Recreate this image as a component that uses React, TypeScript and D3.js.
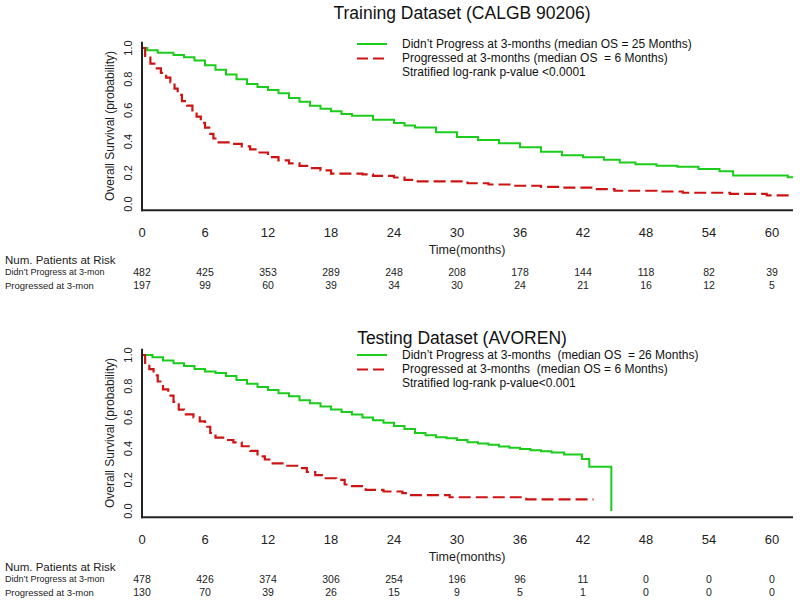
import React from "react";
import * as d3 from "d3";

const xTicks = [0, 6, 12, 18, 24, 30, 36, 42, 48, 54, 60];
const yTicks = [0, 0.2, 0.4, 0.6, 0.8, 1.0];

// Training (CALGB 90206)
const trainNoProgT = [0, 0.5, 1.5, 3, 4, 5, 6, 7, 8, 9, 10, 11, 12, 13, 14, 15, 16, 17, 18, 19, 20, 22, 24, 25, 26, 28, 30, 32, 34, 36, 38, 40, 42, 44, 45.5, 47, 49, 51, 53, 55, 56.3, 61.5, 62];
const trainNoProgS = [1, 0.985, 0.97, 0.955, 0.94, 0.92, 0.89, 0.86, 0.83, 0.8, 0.77, 0.75, 0.73, 0.71, 0.68, 0.655, 0.63, 0.61, 0.595, 0.577, 0.565, 0.54, 0.52, 0.503, 0.49, 0.46, 0.43, 0.41, 0.39, 0.363, 0.335, 0.313, 0.3, 0.283, 0.266, 0.255, 0.245, 0.238, 0.225, 0.21, 0.183, 0.172, 0.172];
const trainProgT = [0, 0.3, 0.8, 1.3, 1.8, 2.3, 2.7, 3.1, 3.4, 3.8, 4.3, 4.8, 5.2, 5.6, 6, 6.4, 6.8, 7.3, 8.5, 9.5, 10.3, 11, 12, 13, 14, 15, 16, 17, 18, 21, 22, 24, 25, 26, 31, 33, 35, 38, 40, 43, 45, 49, 51.5, 56, 59.5, 62];
const trainProgS = [1, 0.95, 0.9, 0.87, 0.84, 0.81, 0.78, 0.74, 0.7, 0.66, 0.63, 0.6, 0.56, 0.52, 0.49, 0.45, 0.42, 0.395, 0.385, 0.37, 0.35, 0.33, 0.3, 0.28, 0.26, 0.245, 0.23, 0.215, 0.195, 0.19, 0.18, 0.17, 0.155, 0.145, 0.133, 0.125, 0.117, 0.11, 0.105, 0.095, 0.085, 0.08, 0.072, 0.065, 0.055, 0.055];

// Testing (AVOREN)
const testNoProgT = [0, 1, 2, 3, 4, 5, 6, 7, 8, 9, 10, 11, 12, 13, 14, 15, 16, 17, 18, 19, 20, 21, 22, 23, 24, 25, 26, 27, 28, 29, 30, 31, 32, 33, 34, 35, 36, 37, 38, 39, 40.2, 41.9, 42.6, 44.7];
const testNoProgS = [1, 0.985, 0.965, 0.947, 0.93, 0.91, 0.895, 0.885, 0.865, 0.84, 0.815, 0.795, 0.775, 0.755, 0.735, 0.71, 0.69, 0.67, 0.65, 0.635, 0.618, 0.6, 0.582, 0.565, 0.545, 0.525, 0.5, 0.485, 0.472, 0.466, 0.455, 0.44, 0.432, 0.424, 0.413, 0.405, 0.397, 0.39, 0.383, 0.375, 0.362, 0.334, 0.283, 0];
const testProgT = [0, 0.3, 0.7, 1.1, 1.5, 2, 2.5, 3, 3.5, 4, 4.9, 5.5, 6, 6.5, 7, 8, 8.7, 9.5, 10.3, 11, 11.7, 12.3, 13.5, 15, 15.7, 16.5, 17.5, 18.5, 19.3, 20, 21.3, 23, 24.8, 25.5, 29.3, 36.6, 43];
const testProgS = [1, 0.95, 0.91, 0.87, 0.83, 0.78, 0.74, 0.7, 0.65, 0.62, 0.6, 0.575, 0.54, 0.5, 0.47, 0.455, 0.44, 0.415, 0.385, 0.35, 0.33, 0.305, 0.29, 0.275, 0.25, 0.23, 0.21, 0.2, 0.17, 0.16, 0.135, 0.125, 0.115, 0.102, 0.088, 0.074, 0.074];

const trainRiskNoProg = [482, 425, 353, 289, 248, 208, 178, 144, 118, 82, 39];
const trainRiskProg = [197, 99, 60, 39, 34, 30, 24, 21, 16, 12, 5];
const testRiskNoProg = [478, 426, 374, 306, 254, 196, 96, 11, 0, 0, 0];
const testRiskProg = [130, 70, 39, 26, 15, 9, 5, 1, 0, 0, 0];

const trainLegend = [
  "Didn\u2019t Progress at 3-months (median OS = 25 Months)",
  "Progressed at 3-months (median OS  = 6 Months)",
  "Stratified log-rank p-value <0.0001",
];
const testLegend = [
  "Didn\u2019t Progress at 3-months  (median OS  = 26 Months)",
  "Progressed at 3-months  (median OS = 6 Months)",
  "Stratified log-rank p-value<0.001",
];

const GREEN = "#1ccc1c";
const RED = "#cc1414";
const FONT = "Arial, 'Liberation Sans', Helvetica, sans-serif";

type PanelProps = {
  top: number;
  title: string;
  legend: string[];
  gT: number[]; gS: number[];
  rT: number[]; rS: number[];
  riskG: number[]; riskR: number[];
  titleY: number;
  legY: number;
};

function Panel({ top, title, legend, gT, gS, rT, rS, riskG, riskR, titleY, legY }: PanelProps) {
  const x = d3.scaleLinear().domain([0, 62]).range([142, 793]);
  const y = d3.scaleLinear().domain([0, 1]).range([top + 156, top]);
  const line = d3
    .line<[number, number]>()
    .x((d) => x(d[0]))
    .y((d) => y(d[1]))
    .curve(d3.curveStepAfter);
  const gData = gT.map((t, i) => [t, gS[i]] as [number, number]);
  const rData = rT.map((t, i) => [t, rS[i]] as [number, number]);
  const axisY = y(-0.04);
  const axisTop = y(1.04);
  return (
    <g fontFamily={FONT}>
      <text x={462} y={titleY} fontSize={17.5} textAnchor="middle" dy="0.35em" fill="#111">
        {title}
      </text>
      <line x1={357} x2={387} y1={legY} y2={legY} stroke={GREEN} strokeWidth={2} />
      <line x1={357} x2={387} y1={legY + 14.5} y2={legY + 14.5} stroke={RED} strokeWidth={2} strokeDasharray="11,5" />
      {legend.map((s, i) => (
        <text key={i} x={402} y={legY + i * 14} fontSize={12} dy="0.35em" fill="#111" style={{ whiteSpace: "pre" }}>
          {s}
        </text>
      ))}
      <path d={line(gData) || ""} fill="none" stroke={GREEN} strokeWidth={2} />
      <path d={line(rData) || ""} fill="none" stroke={RED} strokeWidth={2.2} strokeDasharray="12,5" />
      <line x1={x(0)} x2={x(0)} y1={axisTop} y2={axisY + 1} stroke="#222" strokeWidth={2} />
      <line x1={x(0) - 1} x2={x(62)} y1={axisY} y2={axisY} stroke="#222" strokeWidth={2} />
      {yTicks.map((v) => (
        <text
          key={v}
          transform={`translate(128,${y(v)}) rotate(-90)`}
          fontSize={11}
          textAnchor="middle"
          dy="0.35em"
          fill="#222"
        >
          {v.toFixed(1)}
        </text>
      ))}
      <text
        transform={`translate(110,${y(0.5)}) rotate(-90)`}
        fontSize={12}
        textAnchor="middle"
        dy="0.35em"
        fill="#222"
      >
        Overall Survival (probability)
      </text>
      {xTicks.map((v) => (
        <text key={v} x={x(v)} y={axisY + 22} fontSize={13} textAnchor="middle" dy="0.35em" fill="#222">
          {v}
        </text>
      ))}
      <text x={467} y={axisY + 39} fontSize={12.5} textAnchor="middle" dy="0.35em" fill="#222">
        Time(months)
      </text>
      <text x={5} y={axisY + 50} fontSize={11.5} dy="0.35em" fill="#222">
        Num. Patients at Risk
      </text>
      <text x={5} y={axisY + 62} fontSize={9} dy="0.35em" fill="#222">
        Didn’t Progress at 3-mon
      </text>
      <text x={5} y={axisY + 75} fontSize={9.5} dy="0.35em" fill="#222">
        Progressed at 3-mon
      </text>
      {xTicks.map((v, i) => (
        <g key={v}>
          <text x={x(v)} y={axisY + 62} fontSize={10.5} textAnchor="middle" dy="0.35em" fill="#222">
            {riskG[i]}
          </text>
          <text x={x(v)} y={axisY + 75} fontSize={10.5} textAnchor="middle" dy="0.35em" fill="#222">
            {riskR[i]}
          </text>
        </g>
      ))}
    </g>
  );
}

export default function App() {
  return (
    <div style={{ position: "absolute", left: 0, top: 0 }}>
      <svg width={800} height={604} style={{ display: "block", background: "#fff" }}>
        <Panel
          top={48}
          title="Training Dataset (CALGB 90206)"
          legend={trainLegend}
          gT={trainNoProgT}
          gS={trainNoProgS}
          rT={trainProgT}
          rS={trainProgS}
          riskG={trainRiskNoProg}
          riskR={trainRiskProg}
          titleY={13}
          legY={44}
        />
        <Panel
          top={355}
          title="Testing Dataset (AVOREN)"
          legend={testLegend}
          gT={testNoProgT}
          gS={testNoProgS}
          rT={testProgT}
          rS={testProgS}
          riskG={testRiskNoProg}
          riskR={testRiskProg}
          titleY={338}
          legY={355}
        />
      </svg>
    </div>
  );
}
